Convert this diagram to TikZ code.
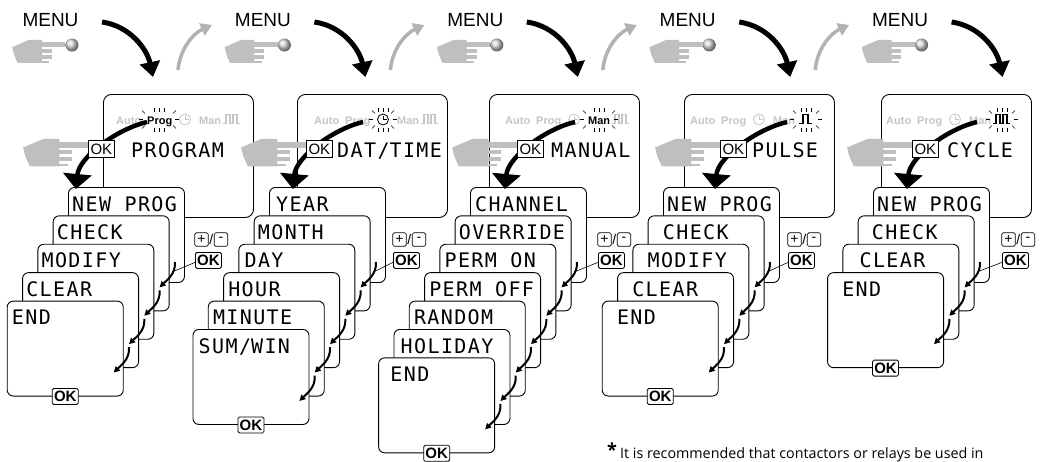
\documentclass[tikz,border=0pt]{standalone}
\usepackage{fontspec}
\setmainfont{Liberation Sans}
\newfontfamily\lcdfont[LetterSpace=7]{DejaVu Sans Mono}
\newfontfamily\notefont{Open Sans}
\usetikzlibrary{arrows.meta,positioning}

\begin{document}
\begin{tikzpicture}[x=1pt,y=-1pt,%
	panel/.style={draw,line width=0.9pt,rounded corners=8pt,fill=white,anchor=north west,inner sep=0pt,minimum width=150pt,minimum height=123pt},
	card/.style={draw,line width=0.9pt,rounded corners=6pt,fill=white,anchor=north west,inner sep=0pt,minimum width=116pt,minimum height=95pt},
	lcd/.style={font=\lcdfont\fontsize{20}{20}\selectfont,inner sep=0pt,anchor=base west},
	okbox/.style={draw,line width=0.8pt,fill=white,inner sep=0pt,minimum width=26pt,minimum height=17pt,font=\fontsize{15}{15}\selectfont},
	okbold/.style={draw,line width=0.8pt,fill=white,rounded corners=1.5pt,inner sep=0pt,minimum width=26pt,minimum height=16pt,font=\bfseries\fontsize{15}{15}\selectfont},
	pmkey/.style={draw,line width=0.7pt,fill=white,rounded corners=1.5pt,inner sep=0pt,minimum size=13.5pt,font=\fontsize{14}{14}\selectfont},
	modetext/.style={font=\bfseries\fontsize{11}{11}\selectfont,inner sep=0pt,anchor=base west},
	menulabel/.style={font=\fontsize{19}{19}\selectfont,inner sep=0pt},
	menubutton/.style={circle,inner sep=0pt,minimum size=13pt,ball color=gray!30},
	bigarrow/.style={line width=5pt,-{Triangle[width=20pt,length=15pt]}},
	modearrow/.style={line width=4.5pt,-{Triangle[width=28pt,length=15pt]}},
	backarrow/.style={line width=3.5pt,gray!60,-{Triangle[width=13pt,length=11pt]}},
	nextarrow/.style={line width=2pt,-{Triangle[width=6pt,length=6pt]}},
	pulseline/.style={line width=1.6pt},
	notetext/.style={font=\notefont\fontsize{14.3}{14.3}\selectfont,inner sep=0pt,anchor=base west},
	handgray/.style={fill=gray!50},
	pics/hand/.style={code={
		\fill[handgray] (-59,2) -- (-40,-5) -- (-26,-5) -- (-26,17) -- (-53,17) -- (-57,9) -- cycle;
		\fill[handgray] (-28,-2.5) rectangle (0,2);
		\fill[handgray] (-28,4) rectangle (-15,7.5);
		\fill[handgray] (-28,9.5) rectangle (-15,13);
		\fill[handgray] (-28,15) rectangle (-18,17);
	}},
	pics/rays/.style={code={
		\foreach \dx in {-5,0,5} {\draw (\dx,-8) -- (\dx,-12); \draw (\dx,8) -- (\dx,12);}
		\draw (-#1,-6) -- ++(-3,-3) (#1,-6) -- ++(3,-3) (-#1,6) -- ++(-3,3) (#1,6) -- ++(3,3);
		\draw (-#1-2,0) -- ++(-4,0) (#1+2,0) -- ++(4,0);
	}}]

	\useasboundingbox (0,0) rectangle (1040,461);

	% MENU row
	\foreach \i in {0,...,4} {
	    \begin{scope}[xshift=\i*212.4pt]
		\node[menulabel] (menu\i) at (50.5,20) {MENU};
		\node[menubutton] (btn\i) at (72,45) {};
		\pic[xscale=0.9,yscale=1.05] at (btn\i.west) {hand};
		\coordinate (go\i) at (102,22);
		\coordinate (in\i) at (153,77);
		\draw[bigarrow] (go\i) .. controls +(28,4) and +(-6,-28) .. (in\i);
		\ifnum\i<4
		    \coordinate (up\i) at (178,70);
		    \coordinate (back\i) at (212,25);
		    \draw[backarrow] (up\i) .. controls +(2,-22) and +(-18,8) .. (back\i);
		\fi
	    \end{scope}
	}

	\foreach \p/\bx/\rs/\act/\pul/\okx/\disp/\gap/\cx/\sx/\tip/\kx/\cards in {%
		1/103/116/2/2/88/PROGRAM/17/68/147/76/195/{NEW PROG/4,CHECK/4,MODIFY/4,CLEAR/4,END/5},%
		2/297/314/3/2/306/DAT\slash TIME/5/269/363/293/393/{YEAR/7,MONTH/4,DAY/6,HOUR/5,MINUTE/5,SUM\slash WIN/6},%
		3/489/505/4/2/517/MANUAL/8/470/575/505/598/{CHANNEL/5,OVERRIDE/4,PERM ON/5,PERM OFF/5,RANDOM/5,HOLIDAY/7,END/12},%
		4/684/690/5/1/720/PULSE/6/663/787/715/788/{NEW PROG/4,CHECK/15,MODIFY/15,CLEAR/15,END/15},%
		5/881/886/5/2/912/CYCLE/9/873/977/907/1002/{NEW PROG/4,CHECK/14,CLEAR/17,END/15}%
	    } {
		\node[panel] (box\p) at (\bx,94) {};
		\foreach \modename/\dx/\jj in {Auto/0/1,Prog/31/2,Man/83/4} {
		    \ifnum\jj=\act\relax\def\col{black}\else\def\col{gray!45}\fi
		    \node[modetext,text=\col] (m\p-\jj) at (\rs+\dx,124) {\modename};
		}
		\ifnum\act=3\relax\def\col{black}\else\def\col{gray!45}\fi
		\node[circle,draw=\col,line width=0.8pt,minimum size=11pt,inner sep=0pt] (m\p-3) at (\rs+69,119.5) {};
		\draw[\col,line width=0.8pt] (m\p-3.center) -- ++(0,-4) (m\p-3.center) -- ++(3.5,0);
		\ifnum\act=5\relax\def\col{black}\else\def\col{gray!45}\fi
		\coordinate (m\p-5) at (\rs+107,123.5);
		\ifnum\pul=1
		    \draw[pulseline,\col] ([xshift=2pt]m\p-5) -| ++(4,-9) -| ++(5,9) -- ++(4,0);
		\else
		    \draw[pulseline,\col] (m\p-5) -| ++(3,-9) -| ++(4,9) -| ++(3,-9) -| ++(4,9) -- ++(3,0);
		\fi
		\ifcase\act\or\or\def\rx{43}\def\hw{14}\or\def\rx{69}\def\hw{8}\or\def\rx{94}\def\hw{13}\or\def\rx{116}\def\hw{10}\fi
		\coordinate (r\p) at (\rs+\rx,119.5);
		\pic[line width=0.6pt] at (r\p) {rays=\hw};
		\node[lcd] (d\p) at (\okx+26+\gap,157) {\disp};

		\foreach \txt/\ind [count=\k] in \cards {
		    \ifnum\k=1 \node[card] (c\p-\k) at (\cx,187) {};
		    \else \node[card] (c\p-\k) at ([shift={(-15.3,28.4)}]c\p-\z.north west) {};
			\draw[nextarrow] ([shift={(-10,75)}]c\p-\z.north east) .. controls +(1,12) and +(7,-7) .. ([shift={(-10,72)}]c\p-\k.north east);
		    \fi
		    \node[lcd] (l\p-\k) at ([shift={(\ind,24)}]c\p-\k.north west) {\txt};
		    \global\let\z=\k% last card so far
		}
		\node[okbold] (end\p) at (c\p-\z.south) {OK};

		\pic[xscale=1.1,yscale=1.25] at (\okx,145) {hand};
		\coordinate (s\p) at (\sx,122);
		\coordinate (t\p) at (\tip,189);
		\draw[modearrow] (s\p) .. controls +(-30,7) and +(3,-32) .. (t\p);
		\node[okbox,anchor=west] (ok\p) at (\okx,149) {OK};

		\node[pmkey] (plus\p) at (\kx+6.5,239.5) {+};
		\node[inner sep=0.5pt,right=0pt of plus\p,font=\fontsize{14}{14}\selectfont] (sl\p) {/};
		\node[pmkey,right=0pt of sl\p] (minus\p) {-};
		\node[okbold,anchor=north west] (pmok\p) at (\kx,252) {OK};
		\coordinate (j\p) at ([shift={(-10.5,84)}]c\p-1.north east);
		\draw[line width=0.6pt] ([yshift=-2pt]pmok\p.west) -- (j\p);
	    }

	\node[notetext] (note) at (620,458) {It is recommended that contactors or relays be used in};
	\node[font=\notefont\bfseries\fontsize{18}{18}\selectfont,inner sep=0pt,anchor=base east] (star) at ([xshift=-3pt,yshift=2pt]note.base west) {*};
\end{tikzpicture}
\end{document}
